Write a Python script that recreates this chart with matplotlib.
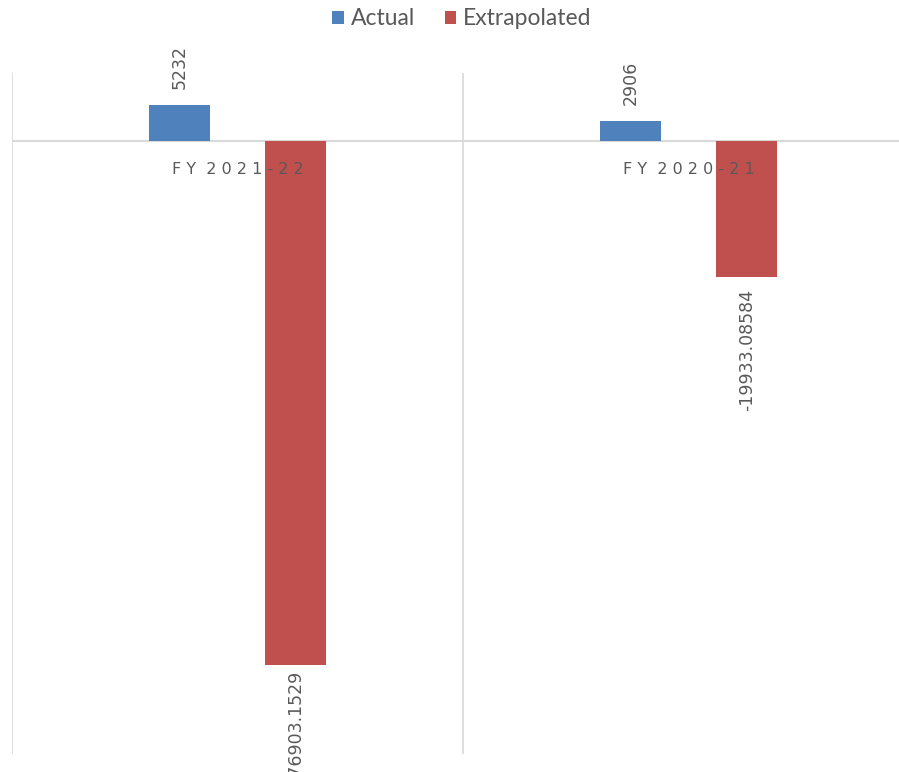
import matplotlib.pyplot as plt
import numpy as np

# Chart data
categories = ["FY 2021-22", "FY 2020-21"]
actual = [5232, 2906]
extrapolated = [-76903.1529, -19933.08584]
actual_labels = ["5232", "2906"]
extrap_labels = ["-76903.1529", "-19933.08584"]

blue, red, grey = '#4F81BD', '#C0504D', '#595959'

fig = plt.figure(figsize=(8.99, 7.72), dpi=100)
ax = fig.add_axes([12/899, 18/772, 902/899, 681/772])

x = np.arange(len(categories))
w, off = 0.135, 0.129
ax.bar(x - off, actual, w, color=blue, label='Actual', zorder=3)
ax.bar(x + off, extrapolated, w, color=red, label='Extrapolated', zorder=3)

ax.set_xlim(-0.5, 1.5)
ax.set_ylim(-90000, 10000)
for gx in [-0.5, 0.5, 1.5]:
    ax.axvline(gx, color='#D9D9D9', lw=1.2, zorder=1)
ax.axhline(0, color='#D9D9D9', lw=1.5, zorder=2)
for s in ax.spines.values():
    s.set_visible(False)
ax.set_xticks([]), ax.set_yticks([])

# data labels
for xi, v, t in zip(x, actual, actual_labels):
    ax.annotate(t, (xi - off, v), xytext=(0, 12), textcoords='offset points',
                rotation=90, ha='center', va='bottom', color=grey, fontsize=12.5,
                zorder=4)
# the long label is pulled up against its bar, as Excel does near the edge
pads = [-4, -9]
for xi, v, t, p in zip(x, extrapolated, extrap_labels, pads):
    ax.annotate(t, (xi + off, v), xytext=(0, p), textcoords='offset points',
                rotation=90, ha='center', va='top', color=grey, fontsize=12.5,
                zorder=4, annotation_clip=False)

# category labels just under the zero line, letter-spaced
for xi, c in zip(x, categories):
    spaced = ' '.join(c).replace('   ', '  ')
    ax.annotate(spaced, (xi, 0), xytext=(0, -15), textcoords='offset points',
                ha='center', va='top', color=grey, fontsize=11.5, zorder=5)

fig.legend(loc='upper center', bbox_to_anchor=(0.514, 1.016), ncol=2, frameon=False,
           prop={'family': 'Lato', 'size': 16.5}, handlelength=0.5, handleheight=0.5,
           handletextpad=0.3, columnspacing=1.3, labelcolor=grey)

fig.savefig('out.png', dpi=100)
